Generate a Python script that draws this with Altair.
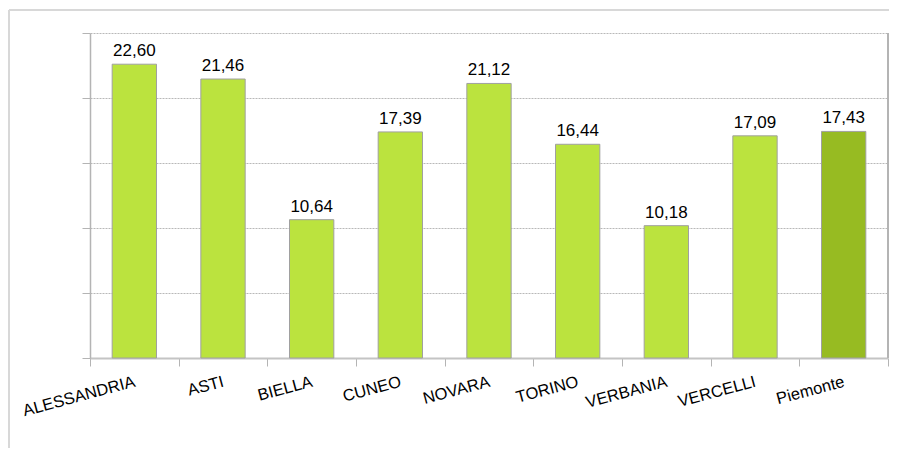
import altair as alt
import pandas as pd

provinces = ["ALESSANDRIA", "ASTI", "BIELLA", "CUNEO", "NOVARA", "TORINO",
             "VERBANIA", "VERCELLI", "Piemonte"]
values = [22.60, 21.46, 10.64, 17.39, 21.12, 16.44, 10.18, 17.09, 17.43]
groups = ["prov"] * 8 + ["reg"]
y_ticks = [0, 5, 10, 15, 20, 25]

df = pd.DataFrame({
    "name": provinces,
    "value": values,
    "group": groups,
    "label": [f"{v:.2f}".replace(".", ",") for v in values],
})

W, H = 798, 325
FONT = "Liberation Sans"

x_axis = alt.Axis(tickBand="extent", labelAngle=-15, labelAlign="right",
                  labelBaseline="middle", labelPadding=15, labelFontSize=16.5,
                  labelColor="#000000", labelFont=FONT, tickSize=8,
                  tickColor="#b4b4b4", domainColor="#c4c4c4", domainWidth=2,
                  grid=False)
y_axis = alt.Axis(values=y_ticks, labels=False, tickSize=8, tickColor="#b4b4b4",
                  domainColor="#b4b4b4", domainWidth=1.5, grid=True,
                  gridColor="#b8b8b8", gridDash=[2, 1], gridWidth=1)

base = alt.Chart(df).encode(
    x=alt.X("name:N", sort=provinces, title=None,
            scale=alt.Scale(paddingInner=0, paddingOuter=0), axis=x_axis),
    y=alt.Y("value:Q", title=None, scale=alt.Scale(domain=[0, 25], nice=False),
            axis=y_axis),
)

bars = base.mark_bar(
    width=alt.RelativeBandSize(0.5), stroke="#a0a0a0", strokeWidth=1
).encode(
    color=alt.Color("group:N", scale=alt.Scale(domain=["prov", "reg"],
                                               range=["#bbe33e", "#97bb22"]),
                    legend=None),
)

texts = base.mark_text(
    baseline="alphabetic", dy=-8, fontSize=17, font=FONT, color="#000000"
).encode(text="label:N")

deco = alt.Chart(df)
right_edge = deco.mark_rule(color="#b4b4b4", strokeWidth=1.5).encode(
    x=alt.value(W), y=alt.value(0), y2=alt.value(H))
frame_top = deco.mark_rule(color="#d8d8d8", strokeWidth=2).encode(
    x=alt.value(-81), x2=alt.value(W + 20), y=alt.value(-23))
frame_left = deco.mark_rule(color="#d8d8d8", strokeWidth=2).encode(
    x=alt.value(-81), y=alt.value(-23), y2=alt.value(H + 120))

chart = alt.layer(bars, texts, frame_top, frame_left, right_edge).properties(
    width=W, height=H,
    autosize=alt.AutoSizeParams(type="none"),
    padding={"left": 82, "top": 25, "right": 1, "bottom": 90},
    background="#ffffff",
).configure_view(stroke=None)

chart.save("out.html", embed_options={"renderer": "svg", "actions": False})
